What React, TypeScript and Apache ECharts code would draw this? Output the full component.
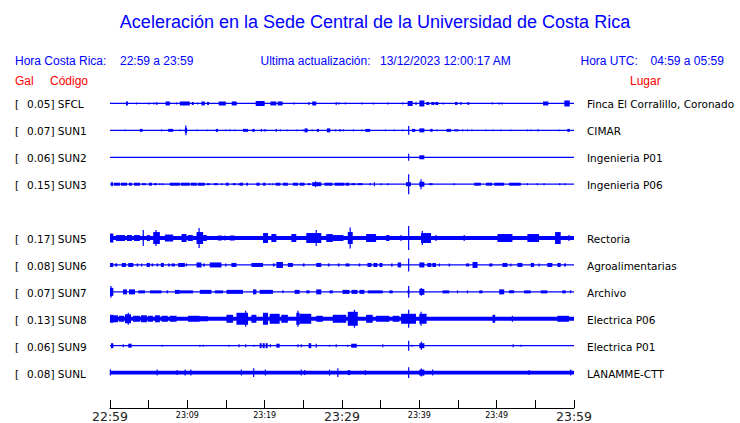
import React, { useEffect, useRef } from "react";
import * as echarts from "echarts";

// ---------- texts ----------
const TITLE = "Aceleración en la Sede Central de la Universidad de Costa Rica";
const HDR_LOCAL_LABEL = "Hora Costa Rica:";
const HDR_LOCAL_RANGE = "22:59 a 23:59";
const HDR_UPDATE_LABEL = "Ultima actualización:";
const HDR_UPDATE_VALUE = "13/12/2023 12:00:17 AM";
const HDR_UTC_LABEL = "Hora UTC:";
const HDR_UTC_RANGE = "04:59 a 05:59";
const COL_GAL = "Gal";
const COL_CODE = "Código";
const COL_PLACE = "Lugar";

// x-axis: minutes after 22:59, labelled every 10 minutes
const TICK_LABELS = ["22:59", "23:09", "23:19", "23:29", "23:39", "23:49", "23:59"];
const MAJOR_TICK_LABELS = ["22:59", "23:29", "23:59"];

// ---------- stations ----------
const STATIONS = ["SFCL", "SUN1", "SUN2", "SUN3", "SUN5", "SUN6", "SUN7", "SUN8", "SUN9", "SUNL"];
const PEAK_GAL = ["0.05", "0.07", "0.06", "0.15", "0.17", "0.08", "0.07", "0.13", "0.06", "0.08"];
const PLACES = [
  "Finca El Corralillo, Coronado",
  "CIMAR",
  "Ingenieria P01",
  "Ingenieria P06",
  "Rectoria",
  "Agroalimentarias",
  "Archivo",
  "Electrica P06",
  "Electrica P01",
  "LANAMME-CTT",
];
// row slot of each trace (slot 4 is empty)
const SLOTS = [0, 1, 2, 3, 5, 6, 7, 8, 9, 10];
// background noise half-amplitude of each trace
const BASE_AMP = [0.6, 0.6, 0.6, 0.6, 2, 0.6, 0.6, 2, 0.6, 1.8];

// bursts: [start minute, end minute, half-amplitude]
type Ev = [number, number, number];

const SFCL: Ev[] = [
  [2.06, 2.32, 2], [3.42, 3.42, 1], [5.03, 5.03, 1], [5.68, 5.68, 1], [6.06, 6.06, 1.5],
  [7.19, 7.74, 2], [8.61, 8.61, 1], [9.03, 10.32, 2], [10.58, 10.84, 1.5], [11.35, 11.35, 1],
  [11.83, 12.26, 2], [12.55, 12.81, 1.5], [14.06, 14.97, 2], [15.74, 16.39, 2], [18.84, 20.0, 2.5],
  [20.74, 21.51, 2], [21.68, 22.32, 2], [23.78, 23.78, 1], [25.72, 25.72, 1.5], [26.15, 26.67, 2],
  [29.25, 29.25, 1.5], [29.59, 29.59, 1], [30.45, 30.45, 1], [32.61, 32.61, 1], [34.06, 34.06, 1],
  [35.91, 35.91, 1], [37.85, 37.85, 1], [38.49, 39.14, 2.5], [39.57, 39.57, 1.5], [40.0, 40.65, 3],
  [40.9, 41.29, 1.5], [41.55, 41.94, 1.5], [42.06, 42.45, 1.5], [43.1, 43.1, 1], [44.61, 44.94, 1.5],
  [45.38, 45.38, 1.5], [46.23, 46.45, 1.5], [49.46, 49.46, 1], [50.32, 50.32, 1], [50.67, 50.67, 1],
  [56.0, 56.68, 2], [58.75, 59.45, 3],
];

const SUN1: Ev[] = [
  [1.94, 1.94, 1], [3.87, 4.22, 1.5], [6.67, 6.67, 1], [7.52, 8.17, 1.5], [9.03, 9.03, 1],
  [9.68, 9.97, 2.5], [9.81, 9.81, 5], [11.26, 11.26, 1], [12.55, 12.55, 1], [13.68, 13.97, 1.5],
  [14.97, 14.97, 1], [15.48, 15.48, 1], [16.13, 16.13, 1], [17.2, 17.85, 1.5], [18.41, 18.71, 1.5],
  [19.57, 19.57, 1.5], [19.87, 20.22, 1], [21.42, 21.59, 1.5], [22.03, 22.03, 1], [22.88, 22.88, 1],
  [24.17, 24.17, 1], [24.94, 24.94, 1], [25.16, 25.55, 2], [26.15, 26.15, 1], [26.75, 27.01, 1.5],
  [28.04, 28.48, 2], [29.16, 29.16, 1], [29.59, 29.9, 1], [30.19, 30.19, 1], [31.48, 31.48, 1],
  [32.55, 32.55, 1], [33.03, 33.64, 1.5], [35.61, 35.61, 1], [36.77, 36.77, 1], [37.85, 37.85, 1],
  [38.62, 38.62, 4.5], [39.06, 39.48, 1.5], [40.0, 40.65, 2], [41.42, 41.72, 1.5], [42.28, 42.28, 1],
  [43.52, 44.09, 1.5], [44.52, 45.07, 1], [45.59, 45.59, 1], [46.23, 46.23, 1], [46.8, 46.8, 1],
  [48.61, 48.61, 1], [49.55, 49.55, 1], [50.54, 50.54, 1], [51.83, 51.83, 1], [53.97, 53.97, 1],
  [54.41, 54.41, 1], [55.26, 55.48, 1], [58.06, 58.06, 1], [59.14, 59.45, 1.5],
];

const SUN2: Ev[] = [[38.62, 38.62, 3.5], [40.0, 40.65, 2]];

const SUN3: Ev[] = [
  [0.13, 0.39, 2], [0.52, 1.29, 1.5], [1.42, 2.19, 1.5], [2.45, 2.84, 1.5], [3.1, 3.87, 1.5],
  [4.13, 4.65, 1], [5.03, 5.42, 1.5], [5.68, 6.06, 1], [6.45, 6.45, 1], [6.84, 6.84, 1],
  [7.74, 9.03, 1.5], [9.16, 10.32, 1.5], [10.45, 11.22, 1.5], [11.35, 12.26, 1.5], [12.52, 12.9, 1],
  [13.42, 13.94, 1], [14.45, 14.45, 1], [14.97, 15.35, 1.5], [15.87, 16.26, 1], [16.65, 16.65, 1],
  [16.77, 17.2, 1.5], [17.64, 17.85, 1.5], [18.93, 19.35, 1.5], [19.78, 20.13, 1.5], [20.65, 20.65, 1],
  [21.07, 21.07, 1], [21.42, 22.03, 1.5], [22.36, 23.0, 1.5], [23.65, 24.3, 1.5], [24.52, 25.16, 1.5],
  [25.59, 25.9, 1], [26.15, 27.32, 2], [26.58, 26.58, 3], [27.74, 28.77, 1.5], [29.03, 30.32, 1.5],
  [30.45, 30.97, 1.5], [31.19, 31.74, 1], [32.0, 32.68, 1], [33.55, 33.76, 1], [34.19, 34.19, 2],
  [35.05, 35.05, 1], [35.91, 35.91, 1], [38.28, 38.92, 2], [38.62, 38.62, 10], [40.0, 40.65, 2.5],
  [40.22, 40.22, 5], [41.29, 41.72, 1], [44.52, 44.52, 1], [47.1, 47.96, 1.5], [48.61, 49.42, 1.5],
  [49.68, 50.97, 1.5], [51.61, 53.12, 1.5], [53.97, 53.97, 1], [55.26, 55.26, 1], [56.13, 56.13, 1],
  [58.15, 58.15, 1], [58.84, 58.84, 1],
];

const SUN5: Ev[] = [
  [0.0, 0.43, 4.5], [0.77, 1.94, 3], [2.19, 2.84, 3], [3.1, 3.87, 3], [4.22, 4.39, 2.5],
  [4.3, 4.3, 8], [4.77, 5.16, 3], [5.59, 6.45, 6], [5.94, 5.94, 8], [7.1, 8.17, 3.5],
  [9.25, 9.9, 4], [10.06, 10.71, 3], [11.19, 12.04, 6], [11.52, 11.52, 10], [12.04, 12.52, 3],
  [13.94, 14.45, 2.5], [14.84, 14.84, 2.5], [15.48, 16.13, 2.5], [19.78, 20.43, 5], [20.86, 21.51, 4],
  [23.45, 24.09, 4], [25.38, 27.32, 5], [26.67, 26.67, 8], [27.96, 28.81, 4], [28.81, 30.19, 3],
  [30.75, 31.39, 6], [31.06, 31.06, 10.5], [33.12, 34.41, 4], [35.7, 36.13, 3], [37.64, 37.64, 3],
  [38.62, 38.62, 12], [40.22, 41.51, 5], [40.39, 40.39, 7], [42.15, 42.15, 3], [45.8, 45.8, 3],
  [50.1, 52.04, 4], [53.97, 55.48, 4], [57.55, 58.28, 6], [59.35, 59.35, 3],
];

const SUN6: Ev[] = [
  [0.0, 0.43, 2], [0.65, 0.94, 1.5], [1.51, 2.06, 2], [2.36, 3.01, 2], [3.45, 3.65, 1.5],
  [4.09, 4.09, 1.5], [4.74, 5.16, 2], [5.38, 5.59, 1.5], [6.03, 6.23, 1.5], [6.58, 6.97, 2],
  [7.52, 7.74, 1.5], [7.96, 8.39, 1.5], [8.81, 9.68, 2], [9.81, 9.97, 1.5], [11.19, 11.83, 2.5],
  [12.04, 12.26, 1.5], [12.9, 14.41, 2.5], [14.97, 14.97, 1.5], [15.7, 16.35, 2], [18.28, 19.78, 2],
  [21.07, 21.29, 1.5], [21.51, 22.36, 3], [23.0, 23.65, 2], [24.94, 25.16, 1.5], [26.67, 27.32, 2],
  [28.17, 28.39, 1.5], [29.46, 29.68, 1.5], [30.45, 30.97, 1.5], [32.17, 32.35, 1.5], [33.29, 33.81, 2],
  [34.06, 34.58, 2], [34.84, 35.23, 2], [36.35, 36.55, 1.5], [37.2, 37.64, 2.5], [38.62, 38.62, 6.5],
  [40.0, 40.65, 2.5], [41.03, 41.55, 2], [41.68, 42.15, 2], [42.58, 42.58, 1.5], [43.87, 43.87, 1.5],
  [46.03, 46.45, 1.5], [46.88, 47.52, 3], [49.03, 49.46, 1.5], [50.75, 51.39, 2], [51.83, 51.83, 1.5],
  [52.68, 53.33, 2], [54.41, 54.84, 2], [55.48, 55.48, 1.5], [56.55, 57.2, 2], [57.85, 58.28, 2],
  [58.71, 58.97, 1.5],
];

const SUN7: Ev[] = [
  [0.0, 0.43, 4], [0.13, 0.13, 6], [1.68, 2.19, 2.5], [2.45, 3.23, 2.5], [3.65, 4.52, 1.5],
  [5.16, 6.67, 1.5], [7.32, 7.52, 1.5], [8.39, 9.03, 2], [9.03, 10.75, 1.5], [11.61, 13.12, 2],
  [13.55, 14.62, 1.5], [15.06, 17.2, 2], [18.49, 18.93, 2.5], [19.35, 21.07, 2], [22.36, 22.36, 1.5],
  [23.87, 24.52, 2], [25.38, 25.81, 1.5], [26.67, 27.32, 2.5], [28.39, 28.81, 1.5], [30.06, 30.97, 2],
  [31.23, 32.0, 2], [32.26, 32.9, 2], [33.33, 35.27, 1.5], [36.13, 36.55, 1.5], [38.49, 38.71, 2],
  [38.62, 38.62, 6], [40.0, 40.65, 3], [40.26, 40.26, 4], [43.0, 43.87, 1.5], [44.94, 44.94, 1.5],
  [46.23, 46.23, 1.5], [47.74, 48.17, 1.5], [50.32, 50.97, 2.5], [51.61, 52.26, 1.5], [53.55, 54.41, 1.5],
  [55.7, 56.55, 1.5], [58.49, 58.93, 1.5], [59.57, 59.57, 1.5],
];

const SUN8: Ev[] = [
  [0.0, 0.43, 4], [0.39, 1.03, 3.5], [1.16, 1.81, 3], [1.94, 2.71, 4.5], [2.36, 2.36, 6],
  [2.97, 3.87, 3], [4.0, 4.77, 3.5], [4.9, 5.55, 3], [5.81, 6.45, 3.5], [6.67, 7.48, 3],
  [7.74, 8.61, 3], [10.1, 11.61, 3], [11.61, 12.68, 2.5], [15.06, 15.91, 4], [16.35, 17.85, 6],
  [17.55, 17.55, 8], [18.28, 18.93, 4], [19.78, 20.43, 6], [20.65, 21.94, 5], [22.15, 23.0, 4],
  [24.09, 24.52, 6], [24.3, 24.3, 8], [24.52, 26.02, 5], [26.67, 27.52, 3], [28.81, 30.54, 4],
  [30.75, 32.04, 7], [31.61, 31.61, 9], [33.12, 33.97, 4], [34.41, 36.13, 3], [36.55, 37.42, 3],
  [37.64, 39.57, 5], [38.62, 38.62, 9], [40.0, 40.94, 5], [40.22, 40.22, 7], [49.46, 49.81, 4],
  [52.04, 52.04, 3], [57.85, 59.35, 3],
];

const SUN9: Ev[] = [
  [0.13, 0.43, 2.5], [1.72, 1.72, 1.5], [2.36, 2.8, 2], [6.75, 6.75, 1], [11.61, 11.61, 1],
  [12.04, 12.04, 1], [15.39, 15.39, 1], [16.68, 16.68, 1.5], [17.55, 17.55, 1.5], [18.62, 18.62, 1],
  [19.35, 19.61, 2.5], [19.74, 20.0, 2.5], [20.13, 20.39, 2.5], [20.74, 20.74, 1.5], [21.51, 21.94, 2],
  [24.3, 24.3, 1.5], [24.73, 24.73, 1.5], [25.68, 26.02, 2.5], [26.67, 26.67, 2], [28.39, 28.39, 1],
  [29.25, 29.25, 1.5], [30.75, 30.75, 1], [31.19, 31.91, 2], [35.27, 35.27, 1.5], [38.62, 38.62, 5],
  [39.06, 39.06, 1], [40.0, 40.65, 2.5], [40.26, 40.26, 4], [52.13, 52.13, 1.5], [53.12, 53.12, 1],
];

const SUNL: Ev[] = [
  [0.05, 0.05, 3], [6.1, 6.1, 3], [8.68, 8.68, 2.5], [9.72, 9.72, 3], [10.45, 10.45, 3],
  [16.99, 16.99, 3], [18.58, 18.58, 4.5], [20.09, 20.09, 3], [24.73, 24.73, 3], [25.16, 25.16, 2.5],
  [28.39, 28.39, 3], [29.46, 29.46, 4.5], [30.75, 31.06, 2.5], [33.03, 33.03, 2.5], [38.62, 38.62, 5.5],
  [40.0, 40.65, 3], [40.26, 40.26, 4], [41.72, 41.72, 3], [54.19, 54.19, 2.5], [59.57, 59.57, 3],
];

const EVENTS: Ev[][] = [SFCL, SUN1, SUN2, SUN3, SUN5, SUN6, SUN7, SUN8, SUN9, SUNL];

// ---------- layout ----------
const W = 740;
const H = 423;
const BLUE = "#0000ff";
const RED = "#ff0000";
const GRID_LEFT = 110;
const GRID_RIGHT = 166;
const GRID_TOP = 90;
const AXIS_Y = 409;
const ROW_GAP = 27; // y units between rows (1 unit = 1 amplitude unit)
const Y_MAX = AXIS_Y - GRID_TOP;
const X_MAX = 60;

const rowCenter = (slot: number) => ROW_GAP / 2 + ROW_GAP * slot;

export default function App() {
  const ref = useRef<HTMLDivElement>(null);

  useEffect(() => {
    if (!ref.current) return;
    const chart = echarts.init(ref.current, undefined, { renderer: "svg", width: W, height: H });

    const data: number[][] = [];
    STATIONS.forEach((_, i) => {
      const yc = rowCenter(SLOTS[i]);
      data.push([0, X_MAX, yc, BASE_AMP[i]]);
      EVENTS[i].forEach(([a, b, amp]) => data.push([a, b, yc, Math.max(amp, BASE_AMP[i])]));
    });

    const rowPx = (slot: number) => GRID_TOP + rowCenter(slot);
    const labelFont = "10.5px 'DejaVu Sans'";
    const hdrFont = "12px 'Liberation Sans'";
    const txt = (text: string, x: number, y: number, font: string, fill: string, align = "left") => ({
      type: "text",
      x,
      y,
      silent: true,
      style: {
        text,
        font,
        fill,
        align,
        textAlign: align,
        verticalAlign: "middle",
        textVerticalAlign: "middle",
      },
    });

    const graphics: any[] = [
      txt(TITLE, 375, 22, "18px 'Liberation Sans'", BLUE, "center"),
      txt(HDR_LOCAL_LABEL, 15, 61, hdrFont, BLUE),
      txt(HDR_LOCAL_RANGE, 120, 61, hdrFont, BLUE),
      txt(HDR_UPDATE_LABEL, 260.5, 61, hdrFont, BLUE),
      txt(HDR_UPDATE_VALUE, 380, 61, hdrFont, BLUE),
      txt(HDR_UTC_LABEL, 580.5, 61, hdrFont, BLUE),
      txt(HDR_UTC_RANGE, 650.5, 61, hdrFont, BLUE),
      txt(COL_GAL, 15, 81, hdrFont, RED),
      txt(COL_CODE, 50, 81, hdrFont, RED),
      txt(COL_PLACE, 630, 81, hdrFont, RED),
    ];
    STATIONS.forEach((st, i) => {
      const y = rowPx(SLOTS[i]);
      graphics.push(txt("[", 15, y, labelFont, "#000"));
      graphics.push(txt(`${PEAK_GAL[i]}] ${st}`, 27, y, labelFont, "#000"));
      graphics.push(txt(PLACES[i], 587, y, labelFont, "#000"));
    });

    chart.setOption({
      animation: false,
      backgroundColor: "#fff",
      grid: { left: GRID_LEFT, right: GRID_RIGHT, top: GRID_TOP, bottom: H - AXIS_Y },
      xAxis: {
        type: "value",
        position: "bottom",
        min: 0,
        max: X_MAX,
        interval: 5,
        axisLine: { show: true, onZero: false, lineStyle: { color: "#000", width: 1 } },
        axisTick: { show: true, inside: true, length: 8, lineStyle: { color: "#000", width: 1 } },
        splitLine: { show: false },
        axisLabel: {
          show: true,
          margin: 2,
          showMinLabel: true,
          showMaxLabel: true,
          formatter: (v: number) => {
            if (v % 10 !== 0) return "";
            const lab = TICK_LABELS[v / 10];
            return MAJOR_TICK_LABELS.includes(lab) ? `{big|${lab}}` : `{small|${lab}}`;
          },
          rich: {
            big: { fontFamily: "DejaVu Sans", fontSize: 12.5, color: "#222", lineHeight: 13 },
            small: { fontFamily: "DejaVu Sans", fontSize: 8, color: "#000", lineHeight: 9, padding: [1, 0, 0, 0] },
          },
        },
      },
      yAxis: {
        type: "value",
        min: 0,
        max: Y_MAX,
        inverse: true,
        show: false,
        splitLine: { show: false },
      },
      series: [
        {
          type: "custom",
          clip: false,
          encode: { x: [0, 1], y: 2 },
          data,
          renderItem: (_p: any, api: any) => {
            const t0 = api.value(0);
            const t1 = api.value(1);
            const yc = api.value(2);
            const amp = api.value(3);
            const p0 = api.coord([t0, yc]);
            const p1 = api.coord([t1, yc]);
            const h = Math.abs(api.size([0, amp])[1]);
            let x = p0[0];
            let w = p1[0] - p0[0];
            if (w < 1.2) {
              x = p0[0] - 0.6;
              w = 1.2;
            }
            return {
              type: "rect",
              shape: { x, y: p0[1] - h, width: w, height: 2 * h },
              style: { fill: BLUE },
            };
          },
        },
      ],
      graphic: graphics,
    });

    return () => chart.dispose();
  }, []);

  return <div ref={ref} style={{ position: "fixed", left: 0, top: 0, width: W, height: H }} />;
}
